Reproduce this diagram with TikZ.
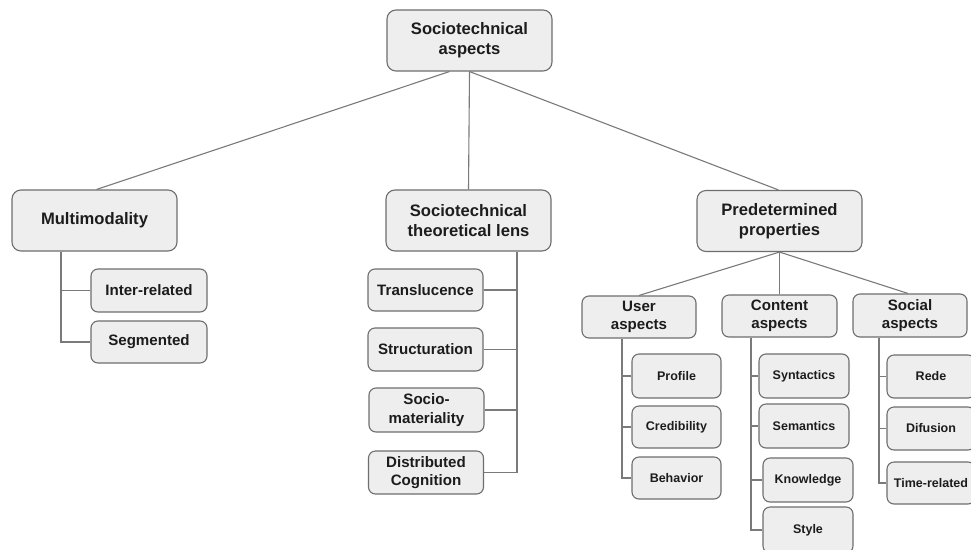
\documentclass[tikz,border=0pt]{standalone}
\usepackage{fontspec}
\setmainfont{Liberation Sans}
\definecolor{boxfill}{HTML}{EEEEEE}
\definecolor{boxline}{HTML}{6E6E6E}
\definecolor{conn}{HTML}{7A7A7A}
\definecolor{txt}{HTML}{1C1C1C}
\tikzset{
  box/.style={draw=boxline, fill=boxfill, line width=1.1pt, rounded corners=9pt,
    align=center, inner sep=0pt, text=txt},
  lvlA/.style={box, minimum width=165pt, minimum height=61pt,
    font=\fontsize{16.6}{20}\selectfont\bfseries},
  lvlB/.style={box, rounded corners=7pt, minimum width=115pt, minimum height=43pt,
    font=\fontsize{15.1}{18.3}\selectfont\bfseries},
  lvlC/.style={box, rounded corners=7pt, minimum width=89pt, minimum height=43pt,
    font=\fontsize{12.5}{15}\selectfont\bfseries},
  link/.style={draw=conn, line width=1.1pt},
}
\begin{document}
\begin{tikzpicture}[x=1pt, y=-1pt]
\useasboundingbox[fill=white] (0,0) rectangle (971,549);

% level 0 / 1
\node[lvlA] (root) at (469.5,40.5) {Sociotechnical\\aspects};
\node[lvlA] (mm)   at (94.5,220.5) {Multimodality};
\node[lvlA] (stl)  at (468.5,220.5) {Sociotechnical\\theoretical lens};
\node[lvlA] (pp)   at (779.5,221) {Predetermined\\properties};

% Multimodality children
\node[lvlB, minimum width=116pt] (ir)  at (149,290.5) {Inter-related};
\node[lvlB, minimum width=116pt, minimum height=42pt] (seg) at (149,342) {Segmented};

% Sociotechnical theoretical lens children
\node[lvlB, minimum height=42pt] (tr) at (425.5,290) {Translucence};
\node[lvlB] (st) at (425.5,349.5) {Structuration};
\node[lvlB, minimum height=44pt] (sm) at (426.5,410) {Socio-\\materiality};
\node[lvlB] (dc) at (426,472.5) {Distributed\\Cognition};

% Predetermined properties children
\node[lvlB, minimum width=114pt, minimum height=42pt] (ua) at (639,317) {User\\aspects};
\node[lvlB, minimum height=42pt] (ca) at (779.5,316) {Content\\aspects};
\node[lvlB, minimum width=114pt] (sa) at (910,315.5) {Social\\aspects};

% User aspects children
\node[lvlC, minimum height=44pt] (pro) at (676.5,376) {Profile};
\node[lvlC, minimum height=42pt] (cre) at (676.5,427) {Credibility};
\node[lvlC, minimum height=42pt] (beh) at (676.5,478) {Behavior};

% Content aspects children
\node[lvlC, minimum width=90pt, minimum height=44pt] (syn) at (804,376) {Syntactics};
\node[lvlC, minimum width=90pt, minimum height=44pt] (sem) at (804,426) {Semantics};
\node[lvlC, minimum width=90pt, minimum height=44pt] (kno) at (808,480) {Knowledge};
\node[lvlC, minimum width=90pt, minimum height=46pt] (sty) at (808,530) {Style};

% Social aspects children
\node[lvlC, minimum width=88pt] (red) at (931,376.5) {Rede};
\node[lvlC, minimum width=88pt] (dif) at (931,428.5) {Difusion};
\node[lvlC, minimum width=88pt, minimum height=42pt] (tim) at (931,483) {Time-related};

% trunk start points
\coordinate (mmT) at ([xshift=-33.5pt]mm.south);
\coordinate (stlT) at ([xshift=48.5pt]stl.south);
\coordinate (uaT) at ([xshift=-17pt]ua.south);
\coordinate (caT) at ([xshift=-28.5pt]ca.south);
\coordinate (saT) at ([xshift=-31pt]sa.south);

% connectors from root
\draw[link] ([xshift=-20pt]root.south) -- ([xshift=2pt]mm.north);
\draw[link] (root.south) -- (stl.north);
\draw[link] (root.south) -- ([xshift=-1pt]pp.north);

% Multimodality tree
\draw[link] (mmT) |- (seg.west);
\draw[link] (ir.west) -- (ir.west -| mmT);

% Sociotechnical theoretical lens tree
\draw[link] (stlT) |- (dc.east);
\draw[link] (tr.east) -- (tr.east -| stlT);
\draw[link] (st.east) -- (st.east -| stlT);
\draw[link] (sm.east) -- (sm.east -| stlT);

% Predetermined properties fan
\draw[link] (pp.south) -- (ua.north);
\draw[link] (pp.south) -- (ca.north);
\draw[link] (pp.south) -- ([xshift=-2pt]sa.north);

% User aspects tree
\draw[link] (uaT) |- (beh.west);
\draw[link] (pro.west) -- (pro.west -| uaT);
\draw[link] (cre.west) -- (cre.west -| uaT);

% Content aspects tree
\draw[link] (caT) |- (sty.west);
\draw[link] (syn.west) -- (syn.west -| caT);
\draw[link] (sem.west) -- (sem.west -| caT);
\draw[link] (kno.west) -- (kno.west -| caT);

% Social aspects tree
\draw[link] (saT) |- (tim.west);
\draw[link] (red.west) -- (red.west -| saT);
\draw[link] (dif.west) -- (dif.west -| saT);
\end{tikzpicture}
\end{document}
